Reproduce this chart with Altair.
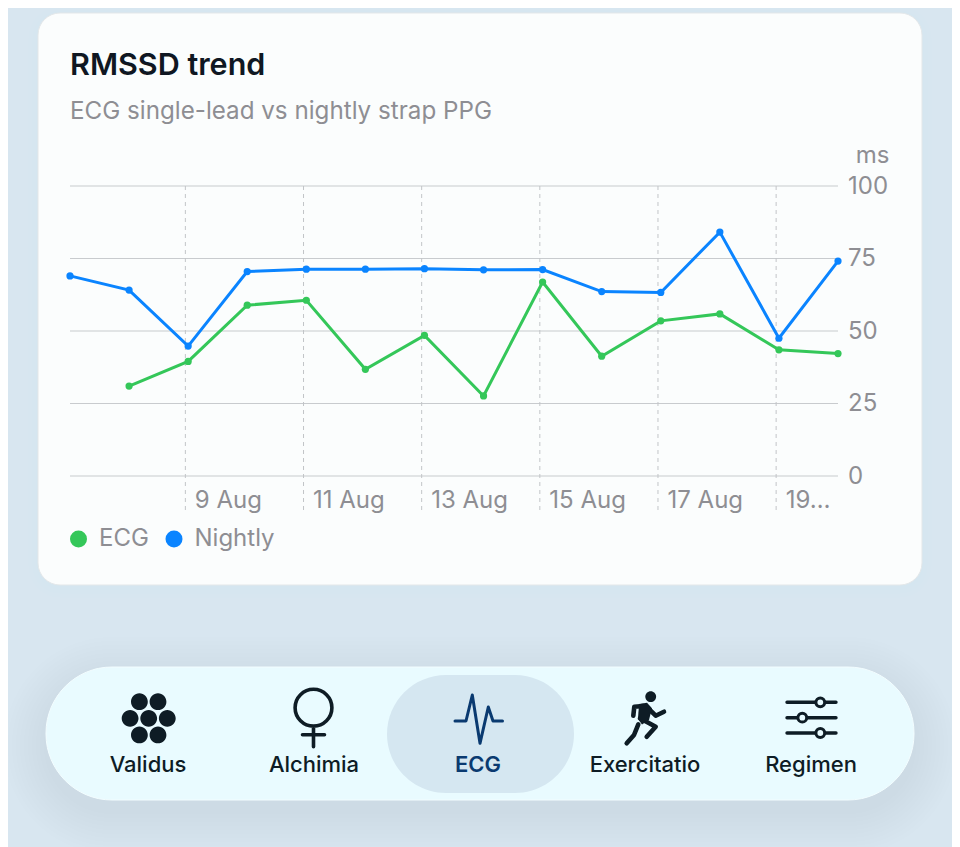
import altair as alt
import pandas as pd

# values
dates = ["2025-08-%02dT01:08:00" % d for d in range(7, 21)]
nightly = [69.0, 64.1, 44.8, 70.5, 71.3, 71.3, 71.5, 71.1, 71.2, 63.6, 63.3, 84.1, 47.5, 74.1]
ecg = [None, 31.0, 39.5, 58.9, 60.6, 36.8, 48.5, 27.6, 66.9, 41.3, 53.5, 55.9, 43.5, 42.2]
y_ticks = [0, 25, 50, 75, 100]
x_ticks = ["2025-08-%02dT00:00:00" % d for d in [9, 11, 13, 15, 17, 19]]
nav_labels = ["Validus", "Alchimia", "ECG", "Exercitatio", "Regimen"]

GREEN = "#34c759"
BLUE = "#0a84ff"
GREY = "#8e8e93"
INK = "#0e1c25"
NAVY = "#0a3a70"
FONT = "Inter"

# page position of the plot area; decoration is placed relative to it
LEFT = 70
TOP = 186


def px(x):
    return x - LEFT


def py(y):
    return y - TOP


one_row = pd.DataFrame({"a": [0]})


def box(x0, y0, x1, y1, fill, radius, stroke=None, opacity=1.0):
    opts = dict(color=fill, cornerRadius=radius, opacity=opacity)
    if stroke:
        opts.update(stroke=stroke, strokeWidth=1)
    return alt.Chart(one_row).mark_rect(**opts).encode(
        x=alt.value(px(x0)), x2=alt.value(px(x1)),
        y=alt.value(py(y0)), y2=alt.value(py(y1))
    )


def label(text, x, y, size, color, weight=400, align="left"):
    return alt.Chart(one_row).mark_text(
        font=FONT, fontSize=size, color=color, fontWeight=weight,
        align=align, baseline="alphabetic"
    ).encode(x=alt.value(px(x)), y=alt.value(py(y)), text=alt.value(text))


# size=4 makes a custom shape's path units equal to pixels
def icon(path, x, y, color=INK, filled=False, width=3.2):
    opts = dict(shape=path, size=4, opacity=1, strokeCap="round", strokeJoin="round")
    if filled:
        opts.update(filled=True, fill=color, strokeWidth=0)
    else:
        opts.update(filled=False, stroke=color, strokeWidth=width)
    return alt.Chart(one_row).mark_point(**opts).encode(
        x=alt.value(px(x)), y=alt.value(py(y))
    )


def circle_path(cx, cy, r):
    return f"M{cx - r},{cy}a{r},{r} 0 1,0 {2 * r},0a{r},{r} 0 1,0 {-2 * r},0Z"


layers = []

# soft shadows
for d in range(2, 44, 4):
    layers.append(box(46 - d, 667 + 12 - d, 914 + d, 800 + 12 + d, "#6f8ea8", 66 + d, opacity=0.009))
for d in range(2, 14, 4):
    layers.append(box(38 - d, 13 + 3 - d, 922 + d, 585 + 3 + d, "#6f8ea8", 22 + d, opacity=0.005))

# card
layers.append(box(38, 13, 922, 585, "#fbfdfd", 22, stroke="#e3e7e9"))
layers.append(label("RMSSD trend", 70, 75, 30.5, "#0f1722", weight=600))
layers.append(label("ECG single-lead vs nightly strap PPG", 70, 118.5, 24.2, GREY))

# nav bar
layers.append(box(46, 667, 914, 800, "#e9fbff", 66, stroke="#f3fdff"))
layers.append(box(387, 675, 574, 793, "#d5e7f1", 59))

dots = [(-9.3, -16.6), (9.3, -16.6), (-18.6, 0), (0, 0), (18.6, 0), (-9.3, 16.6), (9.3, 16.6)]
layers.append(icon("".join(circle_path(a, b, 8.4) for a, b in dots), 148.7, 718.3, filled=True))

venus = circle_path(0, -9.6, 18.4) + "M0,8.8L0,29.4M-11,17.4L11,17.4"
layers.append(icon(venus, 313.5, 717.3, width=3.6))

pulse = "M-23.5,0L-12.5,0L-6.2,-26L1.5,22.3L9.8,-14L14.5,0L24,0"
layers.append(icon(pulse, 478.5, 721, color=NAVY, width=3))

limbs = ("M633.3,715.7L634.3,706.7L643.3,706"
         "M648.3,708.3L655.7,715.7L664,711.7"
         "M640,718.3L655.7,726.7L646.7,736.7"
         "M638.3,724.3L634,735L626.7,743.3")
layers.append(icon(limbs, 0, 0, width=4.6))
torso = "M639,704L647,702.8L652,708.3L649,720L642,724.5L638,719Z"
layers.append(icon(torso, 0, 0, filled=True))
layers.append(icon(circle_path(650.7, 696.7, 5.4), 0, 0, filled=True))

sliders = "M787,702.3L836,702.3M787,717.7L836,717.7M787,733L836,733"
layers.append(icon(sliders, 0, 0, width=3.4))
for kx, ky in [(820.3, 702.3), (802.3, 717.7), (820.3, 733)]:
    layers.append(alt.Chart(one_row).mark_point(
        shape=circle_path(kx, ky, 4.4), size=4, filled=True, fill="#e9fbff",
        stroke=INK, strokeWidth=3, opacity=1
    ).encode(x=alt.value(px(0)), y=alt.value(py(0))))

for name, cx in zip(nav_labels, [148, 314, 478, 645, 811]):
    active = name == "ECG"
    layers.append(label(name, cx, 772, 22, NAVY if active else INK, weight=600 if active else 500, align="center"))

x_scale = alt.Scale(domain=[dates[0], dates[-1]])
y_scale = alt.Scale(domain=[0, 100], nice=False)

x_axis = alt.Axis(
    values=x_ticks, title=None, domain=False, ticks=False, grid=False, zindex=1,
    labelExpr="date(datum.value) == 19 ? '19…' : timeFormat(datum.value, '%-d Aug')",
    labelFont=FONT, labelFontSize=24, labelColor=GREY, labelAlign="left",
    labelBaseline="alphabetic", labelOffset=9, labelPadding=31, labelOverlap=False, labelFlush=False
)
y_axis = alt.Axis(
    orient="right", values=y_ticks, title="ms", domain=False, ticks=False, grid=False, zindex=1,
    labelFont=FONT, labelFontSize=24, labelColor=GREY, labelPadding=9.5,
    titleFont=FONT, titleFontSize=24, titleFontWeight=400, titleColor=GREY, titleAngle=0,
    titleAlign="right", titleBaseline="alphabetic", titleX=51, titleY=-24
)

# gridlines are rules so that they stay above the card
y_grid = alt.Chart(pd.DataFrame({"tick": y_ticks})).mark_rule(color="#c8cbce", strokeWidth=1.2).encode(
    y=alt.Y("tick:Q", scale=y_scale, axis=y_axis),
    x=alt.value(0), x2=alt.value(768)
)
x_grid = alt.Chart(pd.DataFrame({"tick": x_ticks})).mark_rule(color="#c2c5c8", strokeWidth=1, strokeDash=[4, 4]).encode(
    x=alt.X("tick:T", scale=x_scale, axis=x_axis),
    y=alt.value(0), y2=alt.value(328)
)
layers += [y_grid, x_grid]

# series
df = pd.DataFrame({
    "date": dates * 2,
    "series": ["ECG"] * len(dates) + ["Nightly"] * len(dates),
    "rmssd": ecg + nightly
}).dropna()

color = alt.Color(
    "series:N",
    scale=alt.Scale(domain=["ECG", "Nightly"], range=[GREEN, BLUE]),
    legend=alt.Legend(
        orient="none", legendX=-3.5, legendY=341, direction="horizontal", title=None,
        symbolType="circle", symbolSize=289, symbolStrokeWidth=0, symbolOpacity=1,
        labelFont=FONT, labelFontSize=24, labelColor=GREY, labelOffset=8.5, columnPadding=12.5
    )
)

lines = alt.Chart(df).mark_line(strokeWidth=3).encode(
    x=alt.X("date:T", scale=x_scale, axis=x_axis),
    y=alt.Y("rmssd:Q", scale=y_scale, axis=y_axis),
    color=color,
    detail="series:N"
)
points = alt.Chart(df).mark_circle(size=52, opacity=1).encode(
    x=alt.X("date:T", scale=x_scale, axis=x_axis),
    y=alt.Y("rmssd:Q", scale=y_scale, axis=y_axis),
    color=color
)
layers += [lines, points]

chart = alt.layer(*layers).properties(
    width=768,
    height=290,
    padding={"left": 62, "top": 178, "right": 114, "bottom": 371},
    autosize=alt.AutoSizeParams(type="none"),
    background="#d8e6f0"
).configure_view(stroke=None)

chart.save("out.html", embed_options={"renderer": "svg", "actions": False})
